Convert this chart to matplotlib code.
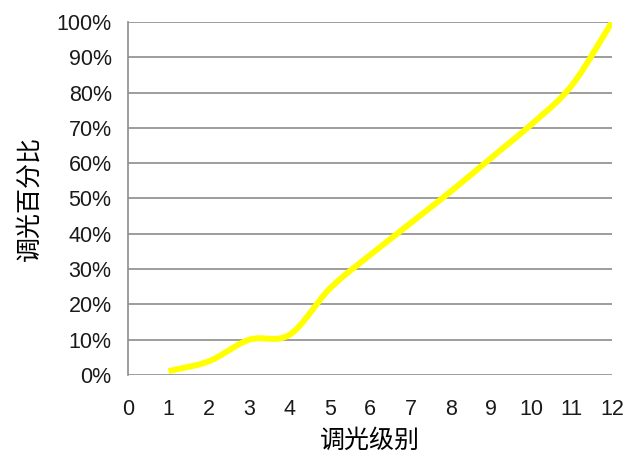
import numpy as np
import matplotlib
matplotlib.use('agg')
import matplotlib.pyplot as plt
from matplotlib.ticker import FuncFormatter

# values
levels = [1, 2, 3, 4, 5, 6, 7, 8, 9, 10, 11, 12]
percent = [1.1, 3.9, 10, 11.4, 24.5, 34, 43, 52, 61.5, 71, 82, 100]
x_label = '调光级别'
y_label = '调光百分比'


def smooth(xs, ys, n=30):
    # Catmull-Rom curve through the points, like a spreadsheet "smoothed line"
    xs = np.asarray(xs, float)
    ys = np.asarray(ys, float)
    px = np.concatenate([[2 * xs[0] - xs[1]], xs, [2 * xs[-1] - xs[-2]]])
    py = np.concatenate([[2 * ys[0] - ys[1]], ys, [2 * ys[-1] - ys[-2]]])
    out_x, out_y = [], []
    t = np.linspace(0, 1, n)
    for i in range(1, len(px) - 2):
        for p, out in ((px, out_x), (py, out_y)):
            p0, p1, p2, p3 = p[i - 1], p[i], p[i + 1], p[i + 2]
            out.extend(0.5 * (2 * p1 + (-p0 + p2) * t
                              + (2 * p0 - 5 * p1 + 4 * p2 - p3) * t ** 2
                              + (-p0 + 3 * p1 - 3 * p2 + p3) * t ** 3))
    return out_x, out_y


plt.rcParams['font.family'] = ['Liberation Sans', 'Noto Sans CJK SC', 'DejaVu Sans']

fig = plt.figure(figsize=(6.29, 4.57), dpi=100)
ax = fig.add_axes([0.204, 0.1794, 0.769, 0.7725])

sx, sy = smooth(levels, percent)
ax.plot(sx, sy, color='#FFFF00', lw=4.3, solid_capstyle='butt', zorder=3)

ax.set_xlim(0, 12)
ax.set_ylim(0, 100)
ax.set_xticks(range(0, 13))
ax.set_yticks(range(0, 101, 10))
ax.yaxis.set_major_formatter(FuncFormatter(lambda v, p: '%d%%' % v))

ax.grid(axis='y', color='#8c8c8c', lw=1.2)
ax.set_axisbelow(True)
for s in ['top', 'right', 'bottom']:
    ax.spines[s].set_visible(False)
ax.spines['left'].set_color('#8c8c8c')
ax.spines['left'].set_linewidth(1.2)
ax.tick_params(axis='both', length=0, labelsize=15.5, colors='#1a1a1a')
ax.tick_params(axis='y', pad=12)
ax.tick_params(axis='x', pad=17)

ax.set_xlabel(x_label, family=['Noto Sans CJK SC'], fontsize=18, labelpad=6)
ax.set_ylabel(y_label, family=['Noto Sans CJK SC'], fontsize=18, labelpad=10)

fig.savefig('out.png', dpi=100)
